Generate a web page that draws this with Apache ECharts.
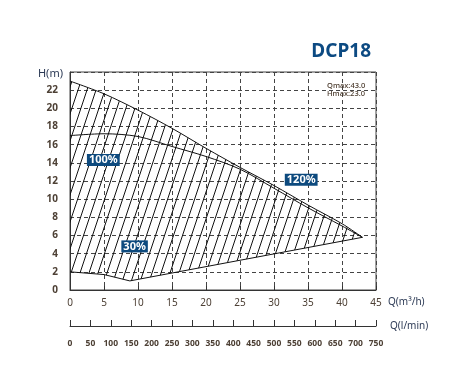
<!DOCTYPE html>
<html>
<head>
<meta charset="utf-8">
<script src="https://cdn.jsdelivr.net/npm/echarts@6/dist/echarts.min.js"></script>
<style>html,body{margin:0;padding:0;background:#fff}#c{width:450px;height:371px}</style>
</head>
<body>
<div id="c"></div>
<script>
// Curve data: [Q m3/h, H m]
const curve120 = [[0,23.0],[5,21.6],[10,19.8],[15,17.8],[20,15.6],[25,13.5],[30,11.5],[35,9.35],[40,7.3],[43,5.8]];
const curve100 = [[0,17.0],[5,17.2],[10,16.9],[15,15.8],[20,14.7],[25,13.3],[30,11.2],[35,9.05],[40,7.05],[43,5.8]];
const curve30  = [[0,2.0],[5,1.7],[8.8,1.0],[43,5.8]];
const tagNames = ['100%','120%','30%'];
const tagPos   = [[4.9,14.3],[34.0,12.15],[9.5,4.8]];
const yTicks = [0,2,4,6,8,10,12,14,16,18,20,22];
const title = 'DCP18';
const infoText = 'Qmax:43.0\nHmax:23.0';

// hatch pattern
const pc = document.createElement('canvas');
pc.width = 9; pc.height = 27;
const g = pc.getContext('2d');
g.strokeStyle = '#111'; g.lineWidth = 1;
[-9,0,9].forEach(dx => { g.beginPath(); g.moveTo(dx, 27); g.lineTo(dx + 9, 0); g.stroke(); });

const chart = echarts.init(document.getElementById('c'), null, {renderer:'canvas'});
const lblColor = '#4d4035';
const font = 'Noto Sans';
const lineStyle = {color:'#111', width:1};

chart.setOption({
  animation:false,
  title:{text:title, right:74, top:37, textStyle:{color:'#0c4a82', fontSize:19, fontWeight:'bold', fontFamily:font}},
  graphic:[{type:'text', left:327, top:82, z:20, style:{text:infoText, fontSize:7.5, lineHeight:7.5, fill:'#4a3a2c', fontFamily:font, fontWeight:500}}],
  grid:{left:70, right:74, top:72, bottom:81, show:true, borderColor:'#444', borderWidth:1},
  xAxis:[{
    type:'value', min:0, max:45, interval:5,
    axisLine:{lineStyle:{color:'#333'}},
    axisTick:{show:true, inside:true, length:4, lineStyle:{color:'#333'}},
    axisLabel:{color:lblColor, fontSize:10, margin:8, fontFamily:font},
    splitLine:{show:true, lineStyle:{type:[4,3], color:'#444', width:1}},
    name:'Q(m³/h)', nameLocation:'end', nameGap:12,
    nameTextStyle:{color:'#2c3a55', fontSize:10, fontFamily:font, verticalAlign:'top', padding:[7,0,0,0]}
  },{
    type:'value', min:0, max:750, interval:50, position:'bottom', offset:36,
    axisLine:{show:true, lineStyle:{color:'#333'}},
    axisTick:{show:true, inside:true, length:6, lineStyle:{color:'#333'}},
    axisLabel:{color:lblColor, fontSize:8.5, margin:13, fontFamily:font, fontWeight:'bold'},
    splitLine:{show:false},
    name:'Q(l/min)', nameLocation:'end', nameGap:14,
    nameTextStyle:{color:'#2c3a55', fontSize:10, fontFamily:font, padding:[0,0,4,0]}
  }],
  yAxis:{
    type:'value', min:0, max:24, interval:2,
    axisLine:{show:true, lineStyle:{color:'#333'}},
    axisTick:{show:false},
    axisLabel:{color:lblColor, fontSize:10, margin:12, fontFamily:font, fontWeight:'bold',
      formatter:v => yTicks.includes(v) ? String(v) : ''},
    splitLine:{show:true, lineStyle:{type:[4,3], color:'#444', width:1}},
    name:'H(m)', nameLocation:'end', nameGap:-2,
    nameTextStyle:{color:'#2c3a55', fontSize:11, fontFamily:font, align:'right', verticalAlign:'middle', padding:[0,7,0,0]}
  },
  series:[
    {type:'custom', xAxisIndex:0, yAxisIndex:0, data:[[0,0]], z:1, silent:true,
      renderItem:(params, api) => {
        const pts = curve120.map(p => api.coord(p)).concat(curve30.slice().reverse().map(p => api.coord(p)));
        return {type:'polygon', shape:{points:pts}, style:{fill:{image:pc, repeat:'repeat'}, stroke:null}};
      }},
    {type:'line', data:curve120, smooth:0.3, symbol:'none', lineStyle, z:3},
    {type:'line', data:curve100, smooth:0.3, symbol:'none', lineStyle, z:3},
    {type:'line', data:curve30, smooth:false, symbol:'none', lineStyle, z:3},
    {type:'scatter', data:tagPos.map((p,i)=>({value:p, name:tagNames[i]})), symbolSize:0, zlevel:1, z:10, silent:true,
      itemStyle:{opacity:1},
      label:{show:true, position:'inside', formatter:p=>p.name, color:'#ffffff', fontSize:11, fontWeight:'bold', fontFamily:font,
        backgroundColor:'#0d4a7e', padding:[1,2,0,2], opacity:1}}
  ]
});
</script>
</body>
</html>
